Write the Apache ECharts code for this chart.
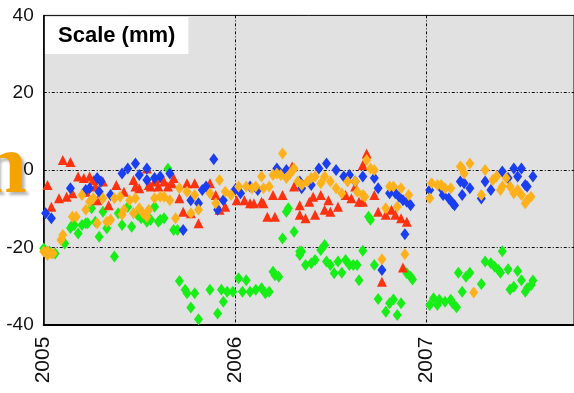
<!DOCTYPE html>
<html>
<head>
<meta charset="utf-8">
<script src="https://cdn.jsdelivr.net/npm/echarts@6/dist/echarts.min.js"></script>
<style>
  html, body { margin: 0; padding: 0; background: #ffffff; }
  #chart { width: 574px; height: 393px; }
</style>
</head>
<body>
<div id="chart"></div>
<script>
// tick labels
var xTicks = [2005, 2006, 2007];
var yTicks = [-40, -20, 0, 20, 40];

// [decimal year, scale in mm]
var greenData = [
  [2005.00,-20.3],[2005.03,-21.1],[2005.06,-21.6],[2005.11,-19.0],[2005.14,-15.0],[2005.15,-14.2],
  [2005.16,-14.2],[2005.18,-16.4],[2005.20,-14.2],[2005.22,-13.8],[2005.23,-13.8],[2005.25,-9.9],
  [2005.27,-13.4],[2005.29,-17.3],[2005.31,-10.8],[2005.33,-15.1],[2005.37,-22.4],[2005.39,-11.2],
  [2005.41,-14.2],[2005.44,-9.5],[2005.46,-14.7],[2005.49,-11.6],[2005.51,-12.5],[2005.54,-13.4],
  [2005.56,-12.9],[2005.58,-9.5],[2005.60,-13.4],[2005.61,-12.9],[2005.63,-12.5],[2005.65,0.3],
  [2005.68,-15.5],[2005.70,-15.5],[2005.71,-28.7],[2005.74,-31.0],[2005.75,-31.9],[2005.77,-35.6],
  [2005.79,-31.9],[2005.81,-38.6],[2005.87,-31.0],[2005.91,-37.1],[2005.93,-31.0],[2005.94,-34.1],
  [2005.96,-31.5],[2005.99,-31.5],[2006.02,-28.0],[2006.04,-31.5],[2006.06,-28.5],[2006.08,-31.5],
  [2006.11,-31.0],[2006.14,-30.6],[2006.16,-31.9],[2006.18,-31.5],[2006.20,-26.3],[2006.21,-27.2],
  [2006.23,-27.6],[2006.25,-17.7],[2006.27,-10.8],[2006.28,-9.9],[2006.31,-16.0],[2006.34,-22.0],
  [2006.34,-21.1],[2006.35,-21.1],[2006.37,-24.6],[2006.40,-24.1],[2006.42,-23.3],[2006.45,-20.7],
  [2006.47,-19.4],[2006.48,-23.7],[2006.50,-24.6],[2006.52,-26.7],[2006.54,-23.7],[2006.56,-26.6],
  [2006.58,-23.3],[2006.60,-24.6],[2006.62,-24.6],[2006.64,-24.6],[2006.65,-28.5],[2006.67,-20.9],
  [2006.70,-12.1],[2006.71,-12.9],[2006.73,-24.6],[2006.75,-33.4],[2006.79,-36.7],[2006.81,-34.5],
  [2006.83,-33.5],[2006.85,-37.5],[2006.87,-34.5],[2006.90,-26.7],[2006.92,-27.6],[2006.93,-28.3],
  [2007.02,-34.9],[2007.04,-33.2],[2007.06,-34.9],[2007.07,-33.6],[2007.10,-34.1],[2007.13,-33.6],
  [2007.14,-34.5],[2007.16,-35.5],[2007.17,-26.6],[2007.19,-31.5],[2007.21,-27.6],[2007.23,-26.6],
  [2007.29,-29.5],[2007.31,-23.7],[2007.34,-24.1],[2007.36,-25.0],[2007.38,-25.9],[2007.39,-26.6],
  [2007.40,-21.0],[2007.43,-25.7],[2007.44,-30.9],[2007.46,-30.2],[2007.48,-26.1],[2007.50,-28.5],
  [2007.52,-31.5],[2007.53,-30.6],[2007.55,-29.8],[2007.56,-28.6]
];

var redData = [
  [2005.02,-3.9],[2005.04,-9.5],[2005.08,-7.3],[2005.10,2.6],[2005.12,-6.9],[2005.14,2.1],
  [2005.15,-6.0],[2005.18,-1.7],[2005.21,-2.1],[2005.22,-5.6],[2005.24,-1.7],[2005.26,-2.6],
  [2005.27,-4.3],[2005.28,-7.8],[2005.31,-3.0],[2005.34,-9.1],[2005.38,-3.9],[2005.42,-5.6],
  [2005.47,-2.6],[2005.48,-4.3],[2005.50,-4.7],[2005.54,0.4],[2005.55,-3.9],[2005.56,-4.3],
  [2005.58,-3.0],[2005.60,-4.3],[2005.61,-2.1],[2005.63,-3.0],[2005.65,-4.3],[2005.67,-3.4],
  [2005.68,-2.1],[2005.71,-7.3],[2005.73,-10.8],[2005.75,-3.4],[2005.77,-11.2],[2005.79,-3.4],
  [2005.81,-13.8],[2005.87,-3.4],[2005.90,-6.5],[2005.92,-10.3],[2005.95,-9.5],[2006.01,-7.8],
  [2006.05,-7.8],[2006.08,-8.6],[2006.10,-8.6],[2006.14,-8.2],[2006.15,-8.6],[2006.17,-12.1],
  [2006.20,-6.5],[2006.21,-12.1],[2006.25,-6.5],[2006.27,-0.4],[2006.30,0.9],[2006.31,-4.3],
  [2006.34,-11.6],[2006.34,-9.1],[2006.37,-12.5],[2006.39,-8.2],[2006.41,-6.9],[2006.42,-11.6],
  [2006.45,-6.5],[2006.47,-10.3],[2006.49,-7.8],[2006.50,-10.8],[2006.54,-9.5],[2006.58,-6.5],
  [2006.61,-7.3],[2006.63,-4.3],[2006.65,-8.2],[2006.67,-8.2],[2006.67,1.3],[2006.69,4.3],
  [2006.73,-6.5],[2006.75,-10.8],[2006.77,-28.9],[2006.79,-11.6],[2006.82,-10.3],[2006.84,-11.6],
  [2006.87,-12.5],[2006.88,-25.2],[2006.90,-13.4]
];

var blueData = [
  [2005.01,-11.2],[2005.04,-12.5],[2005.14,-4.7],[2005.22,-5.2],[2005.24,-4.7],[2005.28,-2.1],
  [2005.29,-5.6],[2005.30,-3.0],[2005.35,-6.5],[2005.41,-0.9],[2005.44,0.4],[2005.48,1.7],
  [2005.50,-1.3],[2005.54,0.4],[2005.54,-2.6],[2005.58,-2.1],[2005.61,-1.7],[2005.66,-0.9],
  [2005.73,-15.5],[2005.77,-7.8],[2005.81,-8.6],[2005.83,-5.2],[2005.85,-4.3],[2005.89,2.8],
  [2005.91,-10.3],[2005.94,-7.8],[2006.00,-5.2],[2006.03,-6.0],[2006.08,-4.3],[2006.12,-5.2],
  [2006.22,0.4],[2006.24,-0.9],[2006.27,0.0],[2006.34,-3.0],[2006.35,-4.7],[2006.40,-3.9],
  [2006.44,0.4],[2006.48,1.7],[2006.53,0.0],[2006.57,-1.7],[2006.60,-1.3],[2006.63,-3.0],
  [2006.67,-1.7],[2006.73,-2.1],[2006.75,-4.7],[2006.77,-25.9],[2006.81,-6.0],[2006.84,-6.0],
  [2006.86,-6.9],[2006.88,-7.8],[2006.89,-16.6],[2006.90,-8.2],[2006.92,-9.1],[2007.02,-5.2],
  [2007.08,-4.7],[2007.09,-6.5],[2007.12,-7.4],[2007.14,-8.6],[2007.15,-9.1],[2007.18,-3.0],
  [2007.19,-6.5],[2007.20,-3.4],[2007.23,-4.7],[2007.29,-7.4],[2007.31,-3.0],[2007.34,-5.2],
  [2007.40,-0.4],[2007.43,-2.1],[2007.46,0.4],[2007.48,-1.7],[2007.50,0.4],[2007.52,-3.9],
  [2007.53,-4.3],[2007.56,-1.7]
];

var orangeData = [
  [2005.00,-21.1],[2005.02,-21.1],[2005.02,-22.0],[2005.04,-21.6],[2005.05,-21.6],[2005.09,-18.1],
  [2005.10,-16.8],[2005.15,-12.1],[2005.17,-12.1],[2005.20,-6.5],[2005.22,-10.3],[2005.24,-8.2],
  [2005.26,-7.3],[2005.28,-13.8],[2005.31,-7.3],[2005.33,-13.4],[2005.35,-12.9],[2005.37,-7.3],
  [2005.40,-6.9],[2005.41,-11.6],[2005.42,-10.3],[2005.45,-7.8],[2005.47,-11.2],[2005.48,-7.3],
  [2005.50,-9.9],[2005.52,-11.2],[2005.54,-12.1],[2005.55,-10.3],[2005.58,-7.3],[2005.61,-6.9],
  [2005.63,-6.9],[2005.66,-7.8],[2005.69,-12.5],[2005.71,-4.7],[2005.75,-5.6],[2005.77,-11.2],
  [2005.79,-6.5],[2005.81,-10.3],[2005.87,-6.0],[2005.90,-8.6],[2005.92,-2.6],[2005.95,-5.6],
  [2005.98,-6.5],[2006.02,-4.3],[2006.06,-4.3],[2006.09,-4.7],[2006.11,-4.3],[2006.14,-1.7],
  [2006.15,-4.7],[2006.18,-4.3],[2006.20,-1.3],[2006.22,-0.9],[2006.24,-1.3],[2006.25,4.3],
  [2006.27,-2.1],[2006.29,-0.9],[2006.31,0.4],[2006.33,-3.0],[2006.35,-3.9],[2006.38,-3.0],
  [2006.40,-2.1],[2006.42,-1.7],[2006.45,-3.4],[2006.47,-1.7],[2006.50,-3.0],[2006.53,-4.7],
  [2006.56,-6.0],[2006.59,-3.0],[2006.63,-3.0],[2006.64,-5.6],[2006.67,-6.5],[2006.68,-6.9],
  [2006.69,2.6],[2006.71,0.4],[2006.73,0.0],[2006.77,-23.1],[2006.79,-9.9],[2006.81,-4.3],
  [2006.83,-4.3],[2006.85,-9.5],[2006.87,-4.7],[2006.89,-21.8],[2006.91,-6.5],[2007.02,-7.3],
  [2007.03,-3.4],[2007.06,-3.9],[2007.08,-3.9],[2007.10,-4.7],[2007.13,-4.7],[2007.18,0.9],
  [2007.19,0.4],[2007.20,-0.9],[2007.23,1.7],[2007.25,-31.7],[2007.29,-6.5],[2007.31,0.0],
  [2007.35,-2.6],[2007.37,-1.7],[2007.39,-5.2],[2007.40,-4.3],[2007.42,-2.1],[2007.44,-4.3],
  [2007.46,-6.0],[2007.48,-5.2],[2007.50,-6.5],[2007.52,-8.6],[2007.53,-7.8],[2007.55,-6.9]
];

var dom = document.getElementById('chart');
var myChart = echarts.init(dom, null, { renderer: 'canvas' });

var gridLine = { show: true, lineStyle: { color: '#000', width: 1, type: [3, 2, 1, 2] } };

var option = {
  backgroundColor: '#ffffff',
  animation: false,
  title: {
    text: 'Scale (mm)',
    left: 45,
    top: 17,
    backgroundColor: '#ffffff',
    padding: [8, 13, 7, 13],
    textStyle: { fontFamily: 'Liberation Sans', fontWeight: 'bold', fontSize: 22, color: '#000' }
  },
  graphic: [{
    type: 'text',
    left: -20,
    top: 128,
    z: 100,
    style: {
      text: 'n',
      fontFamily: 'Liberation Serif',
      fontWeight: 'bold',
      fontSize: 84,
      fill: '#f5a300',
      textShadowColor: 'rgba(0,0,0,0.3)',
      textShadowBlur: 3,
      textShadowOffsetX: 3,
      textShadowOffsetY: 3
    }
  }],
  grid: {
    left: 43.7, right: -2, top: 15.4, bottom: 68.4,
    show: true, backgroundColor: '#e1e1e1', borderColor: '#000', borderWidth: 1
  },
  xAxis: {
    type: 'value',
    min: 2005,
    max: 2007.775,
    interval: 1,
    axisLine: { show: true, onZero: false, lineStyle: { color: '#000', width: 2 } },
    axisTick: { show: false },
    splitLine: Object.assign({ showMinLine: false, showMaxLine: false }, gridLine),
    axisLabel: {
      rotate: 90, margin: 12, fontSize: 21, fontFamily: 'Liberation Sans', color: '#111',
      showMaxLabel: false,
      formatter: function (v) { return xTicks.indexOf(v) >= 0 ? String(v) : ''; }
    }
  },
  yAxis: {
    type: 'value',
    min: yTicks[0],
    max: yTicks[yTicks.length - 1],
    interval: 20,
    axisLine: { show: true, lineStyle: { color: '#000', width: 1.5 } },
    axisTick: { show: false },
    splitLine: Object.assign({ showMinLine: false, showMaxLine: false }, gridLine),
    axisLabel: { margin: 10, fontSize: 19, fontFamily: 'Liberation Sans Narrow, Liberation Sans', color: '#111' }
  },
  series: [
    { name: 'green', type: 'scatter', data: greenData, symbol: 'diamond', symbolSize: [9, 12],
      itemStyle: { color: '#17ee17', opacity: 1 } },
    { name: 'red', type: 'scatter', data: redData, symbol: 'triangle', symbolSize: [10, 10],
      itemStyle: { color: '#ff3210', opacity: 1 } },
    { name: 'blue', type: 'scatter', data: blueData, symbol: 'diamond', symbolSize: [9, 12],
      itemStyle: { color: '#1a3ef2', opacity: 1 } },
    { name: 'orange', type: 'scatter', data: orangeData, symbol: 'diamond', symbolSize: [9, 12],
      itemStyle: { color: '#ffb11c', opacity: 1 } }
  ]
};

myChart.setOption(option);
</script>
</body>
</html>
